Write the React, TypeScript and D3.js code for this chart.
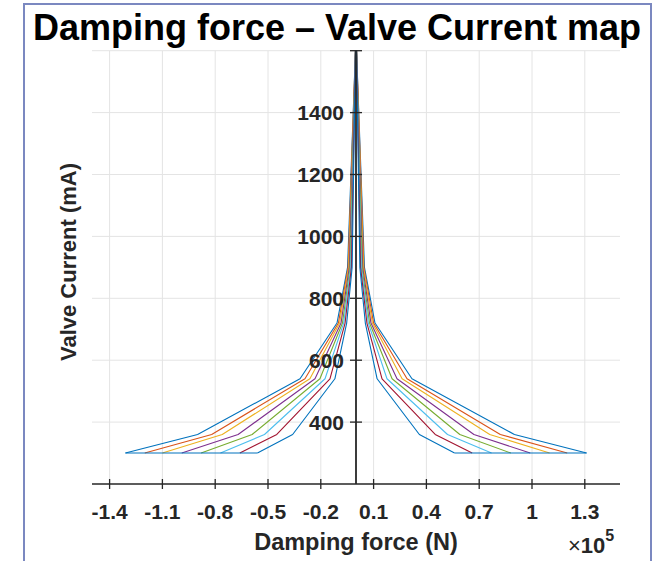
import React from 'react';
import * as d3 from 'd3';

// Valve current levels (mA) at which force was sampled
const currents = [300, 360, 540, 720, 900, 1600];

// Damping force magnitude (x1e5 N) per series at each current level (outer → inner)
const series1 = [1.31, 0.9, 0.318, 0.108, 0.048, 0.003];
const series2 = [1.2, 0.82, 0.29, 0.1, 0.045, 0.003];
const series3 = [1.1, 0.76, 0.262, 0.093, 0.042, 0.003];
const series4 = [0.99, 0.67, 0.233, 0.085, 0.038, 0.003];
const series5 = [0.88, 0.59, 0.205, 0.077, 0.034, 0.003];
const series6 = [0.77, 0.52, 0.176, 0.07, 0.03, 0.003];
const series7 = [0.66, 0.45, 0.148, 0.062, 0.026, 0.003];
const series8 = [0.56, 0.36, 0.12, 0.053, 0.022, 0.003];
const allSeries = [series1, series2, series3, series4, series5, series6, series7, series8];

const colors = ['#0072BD', '#D95319', '#EDB120', '#7E2F8E', '#77AC30', '#4DBEEE', '#A2142F', '#0072BD'];

const xTicks = [-1.4, -1.1, -0.8, -0.5, -0.2, 0.1, 0.4, 0.7, 1, 1.3];
const yTicks = [400, 600, 800, 1000, 1200, 1400, 1600];
const yTickLabels = ['400', '600', '800', '1000', '1200', '1400', ''];

const FONT = "'Liberation Sans', Arial, Helvetica, sans-serif";

export default function App() {
  const W = 661;
  const H = 561;
  const x = d3.scaleLinear().domain([-1.5, 1.5]).range([92, 620]);
  const y = d3.scaleLinear().domain([200, 1600]).range([484, 50.7]);
  const line = d3
    .line<[number, number]>()
    .x((d) => x(d[0]))
    .y((d) => y(d[1]));

  const paths = allSeries.map((s) => {
    const left: [number, number][] = currents.map((c, i) => [-s[i], c]);
    const right: [number, number][] = currents
      .map((c, i) => [s[i], c] as [number, number])
      .reverse();
    return line([...left, ...right]) as string;
  });

  const first = allSeries[0];
  const last = allSeries[allSeries.length - 1];
  const bottomLeft = line([
    [-first[0], currents[0]],
    [-last[0], currents[0]],
  ]) as string;
  const bottomRight = line([
    [first[0], currents[0]],
    [last[0], currents[0]],
  ]) as string;

  const [x0, x1] = x.range();
  const [yb, yt] = y.range();
  const axisColor = '#262626';

  return (
    <svg
      width={W}
      height={H}
      style={{ position: 'absolute', left: 0, top: 0, background: '#fff' }}
      fontFamily={FONT}
    >
      <rect x={0} y={0} width={W} height={H} fill="#fff" />
      {/* frame */}
      <path d={`M24,${H + 2} L24,4 L651,4 L651,${H + 2}`} fill="none" stroke="#7b88c0" strokeWidth={2} />

      {/* title */}
      <text x={337} y={40} textAnchor="middle" fontSize={36} fontWeight="bold" fill="#000">
        Damping force – Valve Current map
      </text>

      {/* grid */}
      <g stroke="#e4e4e4" strokeWidth={1}>
        {xTicks.map((t) => (
          <line key={'gx' + t} x1={x(t)} x2={x(t)} y1={yt} y2={yb} />
        ))}
        {yTicks.map((t) => (
          <line key={'gy' + t} x1={x0} x2={x1} y1={y(t)} y2={y(t)} />
        ))}
      </g>

      {/* data */}
      <g fill="none" strokeWidth={1.1} strokeLinejoin="round">
        {paths.map((d, i) => (
          <path key={'s' + i} d={d} stroke={colors[i]} />
        ))}
        <path d={bottomLeft} stroke={colors[0]} />
        <path d={bottomRight} stroke={colors[0]} />
      </g>

      {/* x axis */}
      <line x1={x0} x2={x1} y1={yb} y2={yb} stroke={axisColor} strokeWidth={1.5} />
      {xTicks.map((t) => (
        <g key={'xt' + t}>
          <line x1={x(t)} x2={x(t)} y1={yb - 5} y2={yb + 5} stroke={axisColor} strokeWidth={1.3} />
          <text x={x(t)} y={519} textAnchor="middle" fontSize={21} fontWeight="bold" fill={axisColor}>
            {String(t)}
          </text>
        </g>
      ))}

      {/* y axis at origin */}
      <line x1={x(0)} x2={x(0)} y1={yb} y2={yt} stroke={axisColor} strokeWidth={1.8} />
      {yTicks.map((t, i) => (
        <g key={'yt' + t}>
          <line x1={x(0) - 6} x2={x(0) + 6} y1={y(t)} y2={y(t)} stroke={axisColor} strokeWidth={1.3} />
          <text
            x={x(0) - 12}
            y={y(t)}
            dy="0.36em"
            textAnchor="end"
            fontSize={21}
            fontWeight="bold"
            fill={axisColor}
          >
            {yTickLabels[i]}
          </text>
        </g>
      ))}

      {/* axis labels */}
      <text x={356} y={550} textAnchor="middle" fontSize={23.5} fontWeight="bold" fill={axisColor}>
        Damping force (N)
      </text>
      <text x={568} y={553} fontSize={22} fill={axisColor}>
        <tspan>×</tspan>
        <tspan fontWeight="bold">10</tspan>
        <tspan fontWeight="bold" fontSize={16} dy={-12}>5</tspan>
      </text>
      <text
        transform="translate(76,262) rotate(-90)"
        textAnchor="middle"
        fontSize={22}
        fontWeight="bold"
        fill={axisColor}
      >
        Valve Current (mA)
      </text>
    </svg>
  );
}
